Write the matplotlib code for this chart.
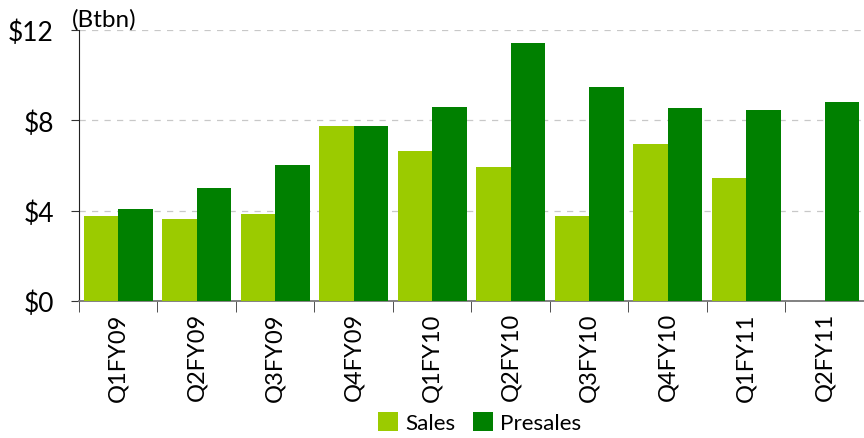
import numpy as np
import matplotlib.pyplot as plt

plt.rcParams['font.family'] = ['Lato', 'DejaVu Sans']

quarters = ['Q1FY09', 'Q2FY09', 'Q3FY09', 'Q4FY09', 'Q1FY10',
            'Q2FY10', 'Q3FY10', 'Q4FY10', 'Q1FY11', 'Q2FY11']
sales = [3.76, 3.63, 3.85, 7.75, 6.64, 5.93, 3.76, 6.95, 5.45, np.nan]
presales = [4.07, 5.00, 6.02, 7.75, 8.59, 11.43, 9.48, 8.55, 8.46, 8.81]
yticks = [0, 4, 8, 12]
ytick_labels = ['$0', '$4', '$8', '$12']

fig = plt.figure(figsize=(8.64, 4.39), dpi=100)
ax = fig.add_axes([0.0914, 0.312, 0.9086, 0.617])

x = np.arange(len(quarters))
w = 0.44
ax.bar(x - w / 2, sales, width=w, color='#9BCB00', label='Sales', zorder=3)
ax.bar(x + w / 2, presales, width=w, color='#008000', label='Presales', zorder=3)

ax.set_xlim(-0.5, len(quarters) - 0.5)
ax.set_ylim(0, 12)
ax.set_yticks(yticks)
ax.set_yticklabels(ytick_labels, fontsize=19)
ax.yaxis.grid(True, linestyle=(0, (5, 5)), color='#c8c8c8', linewidth=0.9)

# category labels centred, ticks at boundaries
ax.set_xticks(x)
ax.set_xticklabels(quarters, rotation=90, fontsize=17)
ax.tick_params(axis='x', length=0, pad=8)
ax.set_xticks(np.arange(len(quarters) + 1) - 0.5, minor=True)
ax.tick_params(axis='x', which='minor', length=8, color='#333333', direction='out')
ax.tick_params(axis='y', length=6, color='#333333', pad=12)

for s in ['top', 'right']:
    ax.spines[s].set_visible(False)
ax.spines['left'].set_color('#222222')
ax.spines['bottom'].set_color('#777777')
ax.spines['bottom'].set_linewidth(1.3)

fig.text(0.083, 0.955, '(Btbn)', fontsize=17.5, ha='left', va='center')

fig.legend(loc='lower center', bbox_to_anchor=(0.555, -0.035), ncol=2,
           frameon=False, fontsize=16.2, handlelength=0.9, handleheight=0.9,
           handletextpad=0.3, columnspacing=0.8)

fig.savefig('out.png', dpi=100)
